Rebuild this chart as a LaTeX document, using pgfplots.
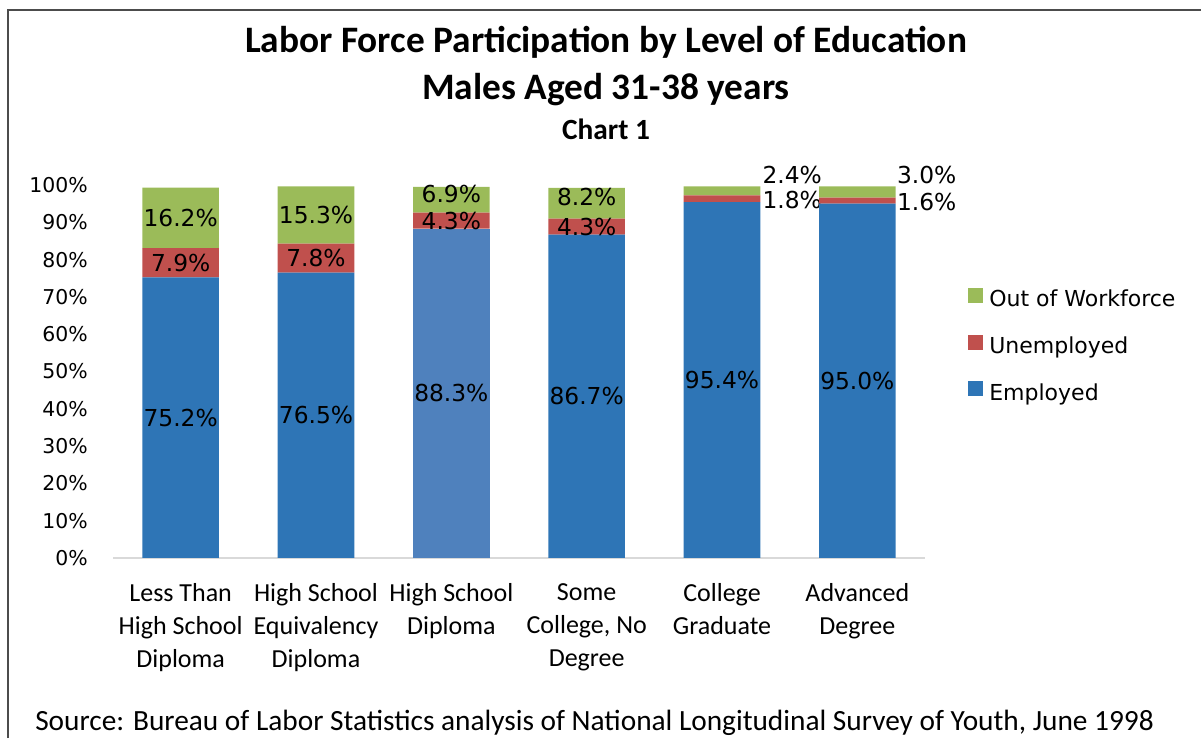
\documentclass[border=0pt]{standalone}
\usepackage{pgfplots}
\usepackage{pgfplotstable}
\pgfplotsset{compat=1.18}
\usepackage{fontspec}
\setmainfont{Carlito}
\newfontfamily\dejavu{DejaVu Sans}
\definecolor{cgreen}{HTML}{9BBB59}
\definecolor{cred}{HTML}{C0504D}
\definecolor{cblue}{HTML}{2E75B6}
\definecolor{clight}{HTML}{4F81BD}
\definecolor{caxis}{HTML}{D9D9D9}
\pgfplotstableread{
x y lbl dy
0 16.2 16.2\% 0
1 15.3 15.3\% 0
2 6.9 6.9\% 4.3
3 8.2 8.2\% 4.8
4 2.4 {} 0
5 3.0 {} 0
}\outdata
\begin{document}
\begin{tikzpicture}
\path[use as bounding box] (0,0) rectangle (900.75pt,553.5pt);
\draw[line width=1.5pt, color=black!70] (6pt,0pt) -- (6pt,546pt) -- (900.75pt,546pt);
\node[anchor=base, inner sep=0pt, font=\fontsize{28}{32}\selectfont\bfseries] at (454.5pt,513.75pt) {Labor Force Participation by Level of Education};
\node[anchor=base, inner sep=0pt, font=\fontsize{28}{32}\selectfont\bfseries] at (454.5pt,478.5pt) {Males Aged 31-38 years};
\node[anchor=base, inner sep=0pt, font=\fontsize{22}{26}\selectfont\bfseries] at (454.5pt,448.5pt) {Chart 1};
\node[anchor=base west, inner sep=0pt, font=\fontsize{22}{26}\selectfont] at (26.25pt,6pt) {Source: Bureau of Labor Statistics analysis of National Longitudinal Survey of Youth, June 1998};
\begin{axis}[
  at={(84.75pt,135pt)}, anchor=south west,
  scale only axis, width=609pt, height=279.75pt,
  ybar stacked, bar width=57.4pt,
  xmin=-0.5, xmax=5.5, ymin=0, ymax=100,
  clip=false,
  axis x line*=bottom, axis y line*=left,
  x axis line style={draw=caxis, line width=1pt},
  y axis line style={draw=none},
  major tick length=0pt,
  xtick={0,...,5},
  xticklabels={{Less Than\\High School\\Diploma},{High School\\Equivalency\\Diploma},{High School\\Diploma},{Some\\College, No\\Degree},{College\\Graduate},{Advanced\\Degree}},
  xticklabel style={align=center, anchor=north, inner sep=0pt, yshift=-18.75pt, font=\fontsize{19.5}{25}\selectfont},
  ytick={0,10,...,100},
  yticklabels={0\%,10\%,20\%,30\%,40\%,50\%,60\%,70\%,80\%,90\%,100\%},
  yticklabel style={anchor=east, inner sep=0pt, xshift=-18.75pt, font=\dejavu\fontsize{15.3}{18}\selectfont},
  nodes near coords,
  point meta=explicit symbolic,
  every node near coord/.append style={font=\dejavu\fontsize{17.5}{20}\selectfont, anchor=center, inner sep=0pt, text=black},
  legend style={at={(1.053,0.7247)}, anchor=north west, draw=none, fill=none, inner sep=0pt, row sep=16.75pt, font=\dejavu\fontsize{16.5}{20}\selectfont, nodes={inner sep=0pt, text height=13pt, text depth=4pt}, column sep=4.5pt},
  legend cell align=left,
  reverse legend,
  legend image code/.code={\fill[#1] (0pt,-1.5pt) rectangle (11.25pt,9.75pt);},
  legend entries={Employed,,Unemployed,Out of Workforce},
]
\addplot[fill=cblue, draw=none] coordinates {(0,75.2)[75.2\%] (1,76.5)[76.5\%] (2,0)[] (3,86.7)[86.7\%] (4,95.4)[95.4\%] (5,95.0)[95.0\%]};
\addplot[fill=clight, draw=none] coordinates {(0,0)[] (1,0)[] (2,88.3)[88.3\%] (3,0)[] (4,0)[] (5,0)[]};
\addplot[fill=cred, draw=none] coordinates {(0,7.9)[7.9\%] (1,7.8)[7.8\%] (2,4.3)[4.3\%] (3,4.3)[4.3\%] (4,1.8)[] (5,1.6)[]};
\addplot[fill=cgreen, draw=none, visualization depends on={\thisrow{dy} \as \dy}, every node near coord/.append style={yshift=\dy pt}] table[x=x, y=y, meta=lbl] {\outdata};
\node[anchor=west, inner sep=0pt, font=\dejavu\fontsize{17.5}{20}\selectfont] at (axis cs:4.298,102.6) {2.4\%};
\node[anchor=west, inner sep=0pt, font=\dejavu\fontsize{17.5}{20}\selectfont] at (axis cs:4.298,96.0) {1.8\%};
\node[anchor=west, inner sep=0pt, font=\dejavu\fontsize{17.5}{20}\selectfont] at (axis cs:5.292,102.6) {3.0\%};
\node[anchor=west, inner sep=0pt, font=\dejavu\fontsize{17.5}{20}\selectfont] at (axis cs:5.292,95.4) {1.6\%};
\end{axis}
\end{tikzpicture}
\end{document}
